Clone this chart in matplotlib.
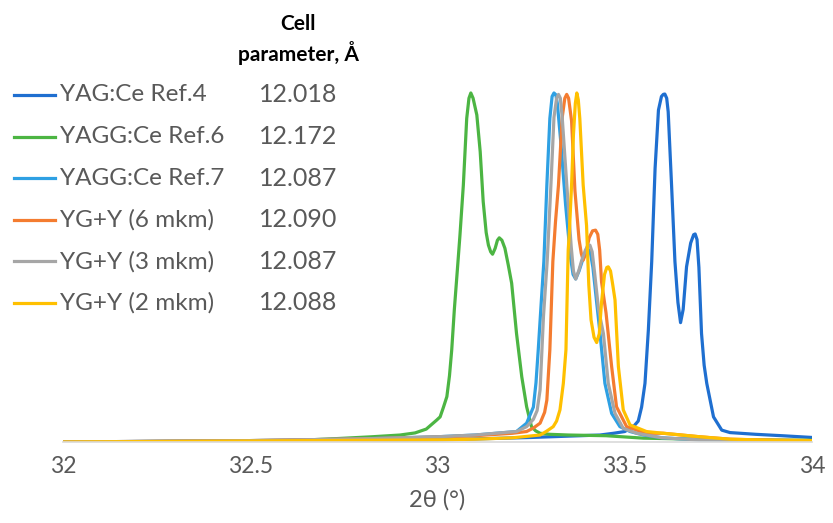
import matplotlib
matplotlib.use("Agg")
import matplotlib.pyplot as plt
from matplotlib.lines import Line2D

plt.rcParams["font.family"] = ["Lato", "DejaVu Sans"]

# Series names, cell parameters and colours
names = ["YAG:Ce Ref.4", "YAGG:Ce Ref.6", "YAGG:Ce Ref.7",
         "YG+Y (6 mkm)", "YG+Y (3 mkm)", "YG+Y (2 mkm)"]
cell_params = ["12.018", "12.172", "12.087", "12.090", "12.087", "12.088"]
colors = ["#1f6fd0", "#4cb543", "#2ea0e3", "#f47c30", "#a6a6a6", "#ffc000"]

# Normalised diffraction profiles (2θ in degrees, relative intensity)
yag_ref4_tt = [32.0, 32.3, 32.6, 32.85, 33.0, 33.25, 33.434, 33.47, 33.50, 33.523,
               33.536, 33.545, 33.554, 33.563, 33.572, 33.581, 33.590, 33.598, 33.603,
               33.607, 33.612, 33.616, 33.625, 33.634, 33.642, 33.649, 33.656, 33.665,
               33.676, 33.684, 33.688, 33.693, 33.698, 33.705, 33.712, 33.719, 33.737,
               33.759, 33.781, 33.85, 33.92, 34.0]
yag_ref4_i = [0.0, 0.002, 0.003, 0.004, 0.006, 0.013, 0.020, 0.025, 0.030, 0.044,
              0.060, 0.100, 0.168, 0.320, 0.517, 0.784, 0.951, 0.990, 0.996,
              0.997, 0.985, 0.946, 0.736, 0.517, 0.400, 0.342, 0.380, 0.502,
              0.570, 0.594, 0.596, 0.580, 0.500, 0.311, 0.220, 0.168, 0.072,
              0.034, 0.027, 0.022, 0.018, 0.013]

yagg_ref6_tt = [32.0, 32.3, 32.5, 32.6, 32.7, 32.825, 32.9, 32.94, 32.97, 32.998,
                33.007, 33.016, 33.025, 33.032, 33.038, 33.045, 33.054, 33.060, 33.069,
                33.078, 33.084, 33.089, 33.095, 33.105, 33.114, 33.122, 33.130, 33.136,
                33.142, 33.147, 33.154, 33.160, 33.165, 33.172, 33.180, 33.189, 33.198,
                33.211, 33.225, 33.238, 33.251, 33.262, 33.274, 33.30, 33.35, 33.45,
                33.55, 33.7, 33.85, 34.0]
yagg_ref6_i = [0.0, 0.001, 0.002, 0.004, 0.008, 0.015, 0.020, 0.026, 0.037, 0.063,
               0.072, 0.100, 0.130, 0.190, 0.264, 0.380, 0.507, 0.593, 0.736,
               0.927, 0.985, 1.000, 0.985, 0.937, 0.832, 0.689, 0.600, 0.564,
               0.545, 0.538, 0.555, 0.578, 0.585, 0.578, 0.555, 0.507, 0.455,
               0.311, 0.187, 0.101, 0.044, 0.032, 0.025, 0.022, 0.020, 0.018,
               0.011, 0.008, 0.006, 0.005]

yagg_ref7_tt = [32.0, 32.5, 32.8, 33.0, 33.1, 33.211, 33.238, 33.256, 33.263, 33.269,
                33.277, 33.284, 33.292, 33.300, 33.306, 33.311, 33.316, 33.320, 33.330,
                33.342, 33.355, 33.362, 33.369, 33.378, 33.390, 33.400, 33.407, 33.415,
                33.425, 33.434, 33.447, 33.465, 33.487, 33.514, 33.55, 33.6, 33.7, 34.0]
yagg_ref7_i = [0.0, 0.004, 0.009, 0.015, 0.020, 0.030, 0.054, 0.100, 0.170, 0.264,
               0.400, 0.517, 0.736, 0.927, 0.990, 1.000, 0.995, 0.970, 0.850,
               0.680, 0.530, 0.480, 0.467, 0.490, 0.530, 0.550, 0.550, 0.500,
               0.400, 0.311, 0.168, 0.082, 0.044, 0.030, 0.020, 0.012, 0.006, 0.003]

yg6_tt = [32.0, 32.5, 32.8, 33.0, 33.1, 33.2, 33.238, 33.256, 33.274, 33.286,
          33.292, 33.300, 33.308, 33.315, 33.323, 33.333, 33.340, 33.345, 33.350,
          33.358, 33.367, 33.378, 33.384, 33.389, 33.396, 33.405, 33.414, 33.422,
          33.428, 33.433, 33.438, 33.450, 33.465, 33.478, 33.505, 33.558, 33.603,
          33.7, 33.781, 33.9, 34.0]
yg6_i = [0.0, 0.004, 0.009, 0.014, 0.018, 0.025, 0.030, 0.040, 0.054, 0.085,
         0.120, 0.264, 0.517, 0.630, 0.736, 0.930, 0.985, 0.996, 0.985,
         0.920, 0.720, 0.580, 0.540, 0.521, 0.540, 0.585, 0.605, 0.607,
         0.595, 0.550, 0.459, 0.370, 0.216, 0.101, 0.044, 0.025, 0.025,
         0.015, 0.008, 0.005, 0.004]

yg3_tt = [32.0, 32.5, 32.8, 33.0, 33.1, 33.211, 33.238, 33.256, 33.266, 33.274,
          33.283, 33.293, 33.303, 33.311, 33.318, 33.323, 33.328, 33.333, 33.345,
          33.357, 33.363, 33.369, 33.377, 33.385, 33.395, 33.402, 33.407, 33.413,
          33.420, 33.430, 33.443, 33.456, 33.474, 33.496, 33.532, 33.6, 33.7, 34.0]
yg3_i = [0.0, 0.004, 0.009, 0.015, 0.020, 0.030, 0.044, 0.065, 0.090, 0.150,
         0.360, 0.520, 0.740, 0.930, 0.985, 0.996, 0.985, 0.930, 0.740,
         0.560, 0.490, 0.467, 0.490, 0.520, 0.550, 0.563, 0.564, 0.545,
         0.480, 0.380, 0.311, 0.168, 0.082, 0.039, 0.025, 0.012, 0.006, 0.003]

yg2_tt = [32.0, 32.5, 32.8, 33.0, 33.1, 33.2, 33.274, 33.290, 33.309, 33.318,
          33.327, 33.336, 33.343, 33.349, 33.352, 33.358, 33.363, 33.368, 33.372,
          33.376, 33.380, 33.389, 33.398, 33.404, 33.410, 33.418, 33.425, 33.432,
          33.438, 33.446, 33.452, 33.456, 33.462, 33.468, 33.474, 33.483, 33.496,
          33.514, 33.558, 33.603, 33.7, 33.781, 33.9, 34.0]
yg2_i = [0.0, 0.003, 0.005, 0.006, 0.008, 0.012, 0.020, 0.030, 0.044, 0.060,
         0.092, 0.168, 0.264, 0.550, 0.600, 0.736, 0.880, 0.970, 1.000,
         0.980, 0.927, 0.736, 0.620, 0.450, 0.350, 0.300, 0.285, 0.310,
         0.400, 0.480, 0.500, 0.502, 0.490, 0.450, 0.407, 0.216, 0.092,
         0.049, 0.030, 0.025, 0.015, 0.008, 0.005, 0.004]

series_tt = [yag_ref4_tt, yagg_ref6_tt, yagg_ref7_tt, yg6_tt, yg3_tt, yg2_tt]
series_i = [yag_ref4_i, yagg_ref6_i, yagg_ref7_i, yg6_i, yg3_i, yg2_i]

x_ticks = [32, 32.5, 33, 33.5, 34]
x_ticklabels = ["32", "32.5", "33", "33.5", "34"]

W, H = 833, 523
fig = plt.figure(figsize=(W / 100, H / 100), dpi=100)
ax = fig.add_axes([63 / W, (H - 442) / H, (812 - 63) / W, (442 - 86) / H])

for tt, inten, col, name in zip(series_tt, series_i, colors, names):
    ax.plot(tt, inten, color=col, lw=2.3, solid_joinstyle="round",
            solid_capstyle="round", label=name)

ax.set_xlim(32, 34)
ax.set_ylim(0, 1.02)
ax.set_yticks([])
ax.set_xticks(x_ticks)
ax.set_xticklabels(x_ticklabels)
for side in ("top", "right", "left"):
    ax.spines[side].set_visible(False)
ax.spines["bottom"].set_color("#d9d9d9")
ax.spines["bottom"].set_linewidth(1.2)
ax.tick_params(axis="x", length=0, pad=10, labelsize=16.5, labelcolor="#595959")
ax.set_xlabel("2θ (°)", fontsize=17, color="#595959", labelpad=9)

# Legend block with cell parameters
row0, pitch = 95, 41.6
name_x, val_x = 60, 298
for k, (name, val, col) in enumerate(zip(names, cell_params, colors)):
    yy = 1 - (row0 + k * pitch) / H
    fig.add_artist(Line2D([14 / W, 55 / W], [yy, yy], color=col, lw=2.3,
                          transform=fig.transFigure))
    fig.text(name_x / W, yy, name, fontsize=17.5, color="#595959",
             ha="left", va="center")
    fig.text(val_x / W, yy, val, fontsize=18, color="#595959",
             ha="center", va="center")

fig.text(val_x / W, 1 - 24 / H, "Cell", fontsize=15, fontweight="bold",
         color="black", ha="center", va="center")
fig.text(val_x / W, 1 - 53 / H, "parameter, Å", fontsize=15, fontweight="bold",
         color="black", ha="center", va="center")

fig.savefig("out.png", dpi=100, facecolor="white")
